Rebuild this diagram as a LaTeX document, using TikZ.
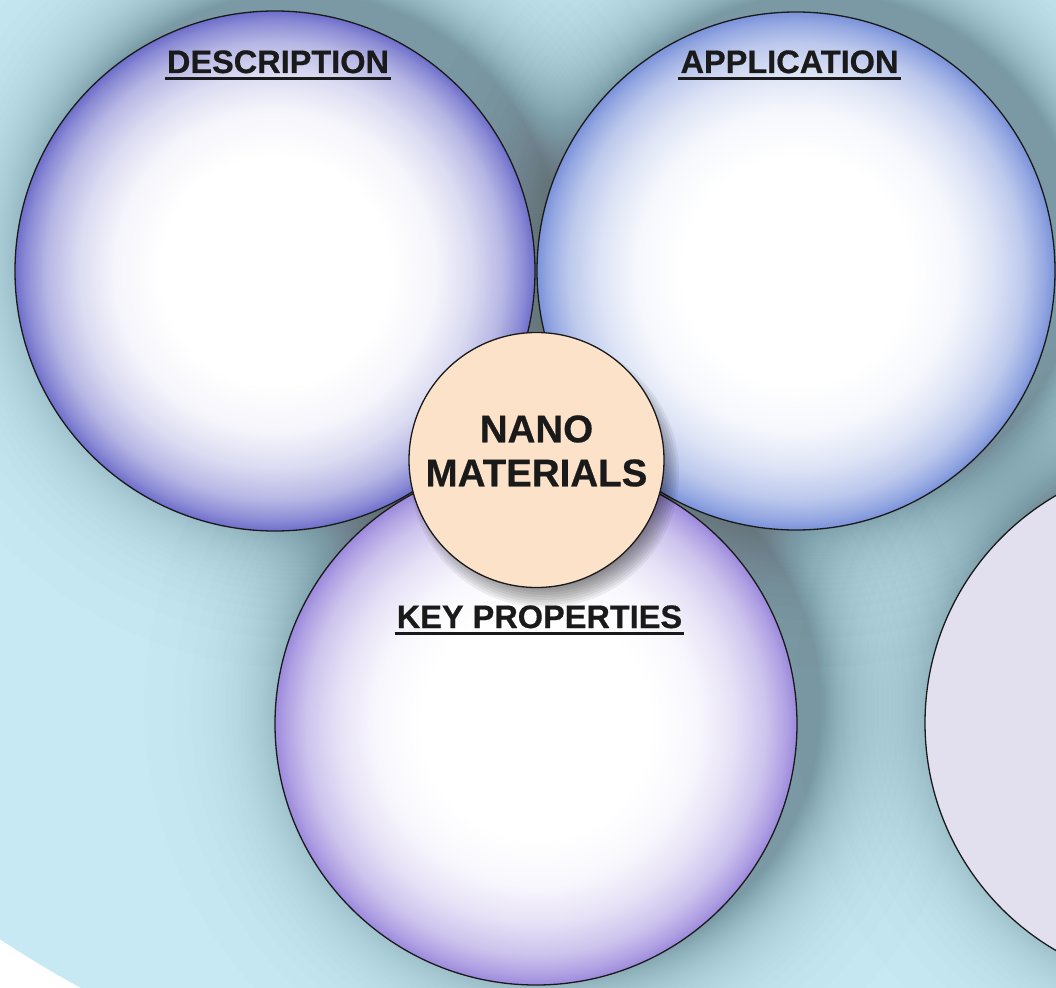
\documentclass[tikz,border=0pt]{standalone}
\usepackage{fontspec}
\setmainfont{Liberation Sans}
\newfontfamily\lblfont{Liberation Sans}[BoldFeatures={FakeBold=0.5}]
\definecolor{bgblue}{HTML}{C6E9F4}
\definecolor{peach}{HTML}{FDE2CA}
\definecolor{lav}{HTML}{E2E0EE}
\definecolor{dEdge}{HTML}{6E6ECB}
\definecolor{aEdge}{HTML}{7A92DA}
\definecolor{kEdge}{HTML}{9C89DC}
\definecolor{ink}{HTML}{1A1A1A}
\colorlet{dA}{dEdge!7!white}\colorlet{dB}{dEdge!25!white}\colorlet{dC}{dEdge!50!white}\colorlet{dD}{dEdge!80!white}
\colorlet{aA}{aEdge!7!white}\colorlet{aB}{aEdge!25!white}\colorlet{aC}{aEdge!50!white}\colorlet{aD}{aEdge!80!white}
\colorlet{kA}{kEdge!7!white}\colorlet{kB}{kEdge!25!white}\colorlet{kC}{kEdge!50!white}\colorlet{kD}{kEdge!80!white}
\pgfdeclareradialshading{ballD}{\pgfpointorigin}{color(0bp)=(white); color(11bp)=(white); color(15.5bp)=(dA); color(19bp)=(dB); color(22bp)=(dC); color(24bp)=(dD); color(25bp)=(dEdge); color(50bp)=(dEdge)}
\pgfdeclareradialshading{ballA}{\pgfpointorigin}{color(0bp)=(white); color(11bp)=(white); color(15.5bp)=(aA); color(19bp)=(aB); color(22bp)=(aC); color(24bp)=(aD); color(25bp)=(aEdge); color(50bp)=(aEdge)}
\pgfdeclareradialshading{ballK}{\pgfpointorigin}{color(0bp)=(white); color(11bp)=(white); color(15.5bp)=(kA); color(19bp)=(kB); color(22bp)=(kC); color(24bp)=(kD); color(25bp)=(kEdge); color(50bp)=(kEdge)}
\tikzset{
  bigball/.style={circle, draw=ink, line width=1.3pt, inner sep=0pt, minimum size=#1},
  lbl/.style={font=\fontsize{32.5}{36}\selectfont\lblfont\bfseries, text=ink, inner sep=0pt, anchor=base},
  uline/.style={draw=ink, line width=2.8pt},
}
\begin{document}
\begin{tikzpicture}[x=1pt,y=-1pt]
\useasboundingbox (0,0) rectangle (1056,987);
\clip (0,0) rectangle (1056,987);
\fill[white] (0,0) rectangle (1056,987);
\fill[bgblue] (657,-65) circle[radius=1200pt];
% soft shadows of the big circles (exponential fall-off)
\foreach \cx/\cy/\r in {275/271/260, 796/271/259, 536/724/261, 1188/723/263}{
  \foreach \k in {1,...,40}{
    \pgfmathsetmacro\rr{\r+42*ln(40/\k)}
    \fill[black, opacity=0.0085] (\cx+24,\cy-18) circle[radius=\rr pt];
  }
}
% big circles
\node[bigball=520pt, shading=ballD] (desc) at (275,271) {};
\node[bigball=518pt, shading=ballA] (appl) at (796,271) {};
\node[bigball=522pt, shading=ballK] (keyp) at (536,724) {};
\node[bigball=526pt, fill=lav] (extra) at (1188,723) {};
% shadow of the centre circle
\foreach \k in {0,...,9}{
  \fill[black, opacity=0.06] (544.5,473) circle[radius=112pt+2.5pt*\k];
}
\node[circle, draw=ink, line width=1.3pt, fill=peach, inner sep=0pt, minimum size=255pt] (nano) at (536.5,460) {};
\node[font=\fontsize{38.5}{44}\selectfont\lblfont\bfseries, text=ink, align=center, inner sep=0pt] (nanotext) at (536.5,451) {NANO\\MATERIALS};
% titles
\node[lbl] (dl) at (278,73) {DESCRIPTION};
\draw[uline] ([xshift=-2pt,yshift=-5.5pt]dl.base west) -- ([xshift=2pt,yshift=-5.5pt]dl.base east);
\node[lbl] (al) at (789.5,73) {APPLICATION};
\draw[uline] ([xshift=-2pt,yshift=-5.5pt]al.base west) -- ([xshift=2pt,yshift=-5.5pt]al.base east);
\node[lbl] (kl) at (539.5,628) {KEY PROPERTIES};
\draw[uline] ([xshift=-2pt,yshift=-5.5pt]kl.base west) -- ([xshift=2pt,yshift=-5.5pt]kl.base east);
\end{tikzpicture}
\end{document}
